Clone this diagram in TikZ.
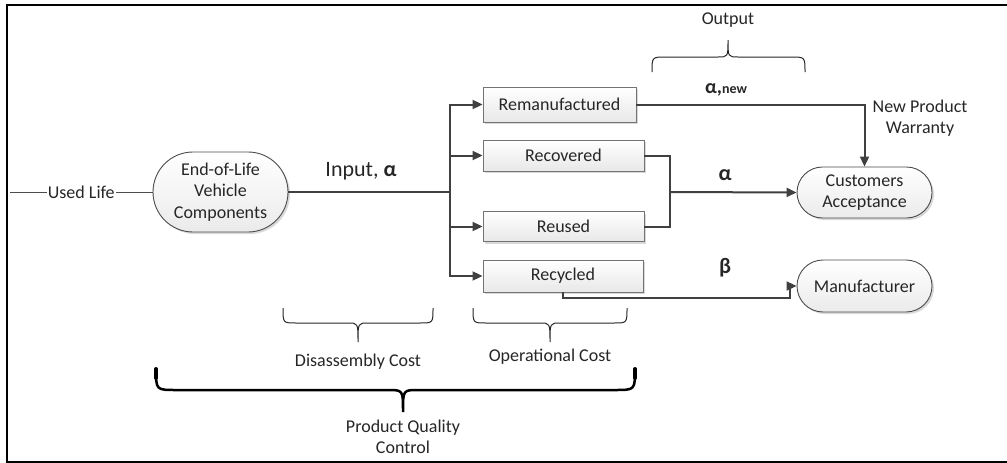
\documentclass[tikz,border=0pt]{standalone}
\usepackage{fontspec}
\setmainfont{Carlito}
\usetikzlibrary{shapes.misc,arrows.meta,shadows}
\begin{document}
\begin{tikzpicture}[x=1pt,y=-1pt,
  font=\fontsize{18}{21.5}\selectfont,
  txt/.style={text=black!85},
  conn/.style={draw=black!75,line width=2pt},
  thinline/.style={draw=black!70,line width=1pt},
  arr/.style={-{Triangle[length=10pt,width=9pt]}},
  boxnode/.style={draw=black!55,line width=0.9pt,top color=white,bottom color=black!9,
    drop shadow={shadow xshift=2pt,shadow yshift=-2pt,fill=black!25,opacity=0.6},
    minimum height=32pt,inner sep=0pt,txt},
  roundnode/.style={rounded rectangle,draw=black!70,line width=0.9pt,top color=white,bottom color=black!8,
    drop shadow={shadow xshift=2pt,shadow yshift=-2pt,fill=black!25,opacity=0.6},
    minimum width=135pt,inner sep=0pt,align=center,txt},
  brace/.style={draw=black!85,line width=1pt},
  bigbrace/.style={draw=black,line width=2.5pt,line cap=round},
  lbl/.style={txt,inner sep=0pt,align=center},
  biglbl/.style={lbl,font=\fontsize{22}{24}\selectfont}]
\useasboundingbox (0,0) rectangle (1007,463);
% frame
\draw[line width=2.5pt] (1012,5) -- (7,5) -- (7,462) -- (1012,462);

% nodes
\node[roundnode,minimum height=80pt] (eol) at (220.5,192) {End-of-Life\\Vehicle\\Components};
\node[boxnode,minimum width=153pt,minimum height=35pt] (reman) at (559.5,104.5) {Remanufactured};
\node[boxnode,minimum width=161pt,minimum height=31pt] (recov) at (563.5,155.5) {Recovered};
\node[boxnode,minimum width=161pt,minimum height=30pt] (reused) at (563.5,226.5) {Reused};
\node[boxnode,minimum width=160pt,minimum height=32pt] (recyc) at (563,276) {Recycled};
\node[roundnode,minimum height=51pt] (cust) at (864.5,192.5) {Customers\\Acceptance};
\node[roundnode,minimum height=52pt] (man) at (864.5,286) {Manufacturer};

% coordinates
\coordinate (ul) at (10,192);
\coordinate (j) at (450,192);
\coordinate (m) at (670,192);
\coordinate (k) at (790,298);

% connectors
\draw[thinline] (ul) -- node[fill=white,inner sep=1pt,txt] {Used Life} (eol.west);
\draw[conn] (eol.east) -- (j);
\draw[conn] (j |- reman.west) -- (j |- recyc.west);
\draw[conn,arr] (j) |- (reman.west);
\draw[conn,arr] (j) |- (recov.west);
\draw[conn,arr] (j) |- (reused.west);
\draw[conn,arr] (j) |- (recyc.west);
\draw[conn,arr] (reman.east) -| (cust.north);
\draw[conn] (recov.east) -| (m);
\draw[conn] (reused.east) -| (m);
\draw[conn,arr] (m) -- (cust.west);
\draw[conn,arr] (recyc.south) |- (k) |- (man.west);

% labels
\node[biglbl] (inp) at (361,171) {Input, \textbf{α}};
\node[lbl] (anew) at (726,90) {\textbf{\fontsize{20}{20}\selectfont α,{\fontsize{14}{14}\selectfont new}}};
\node[lbl] (npw) at (920,118) {New Product\\Warranty};
\node[biglbl] (al) at (725,175) {\textbf{α}};
\node[biglbl] (be) at (725,268) {\textbf{β}};
\node[lbl] (out) at (728,20) {Output};
\node[lbl] (dis) at (358,362) {Disassembly Cost};
\node[lbl] (ope) at (550,357) {Operational Cost};
\node[lbl] (pqc) at (403,437) {Product Quality\\Control};

% braces
\draw[brace] (652,72) .. controls (652,57) .. (666,57) -- (718,57) .. controls (728,57) .. (728,40)
  .. controls (728,57) .. (738,57) -- (791,57) .. controls (805,57) .. (805,72);
\draw[brace] (283,308) .. controls (283,323) .. (296,323) -- (348,323) .. controls (358,323) .. (358,342)
  .. controls (358,323) .. (368,323) -- (420,323) .. controls (433,323) .. (433,308);
\draw[brace] (473,308) .. controls (473,323) .. (486,323) -- (540,323) .. controls (550,323) .. (550,342)
  .. controls (550,323) .. (560,323) -- (614,323) .. controls (627,323) .. (627,308);
\draw[bigbrace] (156,369) .. controls (156,390) .. (176,390) -- (388,390) .. controls (403,390) .. (403,412)
  .. controls (403,390) .. (418,390) -- (615,390) .. controls (635,390) .. (635,369);
\draw[bigbrace,line width=4pt] (156,369) -- (156,378);
\draw[bigbrace,line width=4pt] (635,369) -- (635,378);
\end{tikzpicture}
\end{document}
